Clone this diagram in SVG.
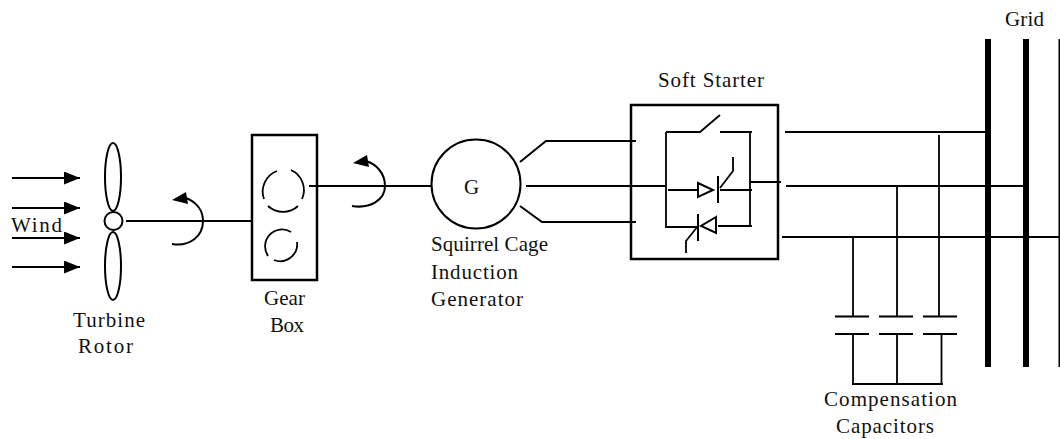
<svg xmlns="http://www.w3.org/2000/svg" width="1060" height="439" viewBox="0 0 1060 439">
<style>
text{font-family:"Liberation Serif","Times New Roman",serif;font-size:21px;fill:#111}
.l{fill:none;stroke:#000;stroke-width:2}
.t{fill:none;stroke:#000;stroke-width:2.5}
.g{fill:none;stroke:#000;stroke-width:1.8}
.b{fill:#000;stroke:none}
</style>
<defs>
<marker id="ah" markerUnits="userSpaceOnUse" markerWidth="16" markerHeight="14" refX="16" refY="6.5" orient="auto"><path d="M0 0L16 6.500L0 13Z" fill="#000"/></marker>
</defs>
<g id="connectors">
<path class="l" marker-end="url(#ah)" d="M12 178H80"/>
<path class="l" marker-end="url(#ah)" d="M12 208H80"/>
<path class="l" marker-end="url(#ah)" d="M12 238H80"/>
<path class="l" marker-end="url(#ah)" d="M12 267H80"/>
<path class="l" d="M126 221H252"/>
<path class="l" d="M172 244C190 247 203 236 203 221C203 210 196 202 186 198"/>
<path class="b" d="M172 200L186 192L188 204Z"/>
<path class="l" d="M309 186H431"/>
<path class="l" d="M352 206C370 209 385 200 385 186C385 173 376 164 366 161"/>
<path class="b" d="M353 163L367 155L369 167Z"/>
<path class="l" d="M520 162L546 141H636"/>
<path class="l" d="M526 186H666"/>
<path class="l" d="M520 206L542 222H636"/>
<path class="l" d="M750 182H781"/>
<path class="l" d="M785 132H985"/>
<path class="l" d="M786 186H1024"/>
<path class="l" d="M782 237H1060"/>
<path class="g" d="M939 135V316"/>
<path class="g" d="M897 186V316"/>
<path class="g" d="M853 237V316"/>
<path class="g" d="M853 334V384M897 334V384M941.500 334V384"/>
<path class="l" d="M852 384H943"/>
</g>
<g id="wind"><text x="11" y="232" textLength="51">Wind</text></g>
<g id="turbine-rotor">
<ellipse class="l" cx="113" cy="177" rx="8" ry="34"/>
<ellipse class="l" cx="113" cy="266" rx="8" ry="34"/>
<circle class="l" cx="113.500" cy="221" r="9"/>
<text x="73" y="327" textLength="72">Turbine</text>
<text x="78" y="353" textLength="55">Rotor</text>
</g>
<g id="gear-box">
<rect class="t" x="252" y="135" width="65" height="145"/>
<path class="g" d="M277 171A22 22 0 0 0 264 199M268 206A22 22 0 0 0 298 206M302 199A22 22 0 0 0 291 170"/>
<path class="g" d="M291 232A17 17 0 0 0 268 256M274 260A17 17 0 0 0 297 242"/>
<text x="264" y="305" textLength="41">Gear</text>
<text x="270" y="332" textLength="34">Box</text>
</g>
<g id="generator">
<circle class="l" cx="476" cy="184" r="44.500"/>
<text x="464" y="194">G</text>
<text x="431" y="251" textLength="117">Squirrel Cage</text>
<text x="431" y="279" textLength="87">Induction</text>
<text x="431" y="306" textLength="92">Generator</text>
</g>
<g id="soft-starter">
<rect class="t" x="631" y="105" width="147" height="154"/>
<path class="g" d="M666 132H700L720 115M720 132H752M750 132V226M666 132V227H698M668 190H698M720 190H752M718 226H752"/>
<path class="l" d="M698 183L713 190L698 197Z"/>
<path class="l" d="M718 176V203"/>
<path class="g" d="M720 188L733 171V157"/>
<path class="l" d="M716 217L701 226L716 233Z"/>
<path class="l" d="M698 214V241"/>
<path class="g" d="M698 226L686 241V253"/>
<text x="658" y="87" textLength="106">Soft Starter</text>
</g>
<g id="grid">
<rect class="b" x="985" y="39" width="6" height="328"/>
<rect class="b" x="1023" y="39" width="6" height="328"/>
<rect class="b" x="1058.500" y="39" width="1.500" height="328"/>
<text x="1005" y="26" textLength="39">Grid</text>
</g>
<g id="compensation-capacitors">
<path class="l" d="M835 316.500H869M879 316.500H913M923 316.500H957M835 334H869M879 334H913M923 334H957"/>
<text x="824" y="406" textLength="133">Compensation</text>
<text x="836" y="433" textLength="98">Capacitors</text>
</g>
</svg>
